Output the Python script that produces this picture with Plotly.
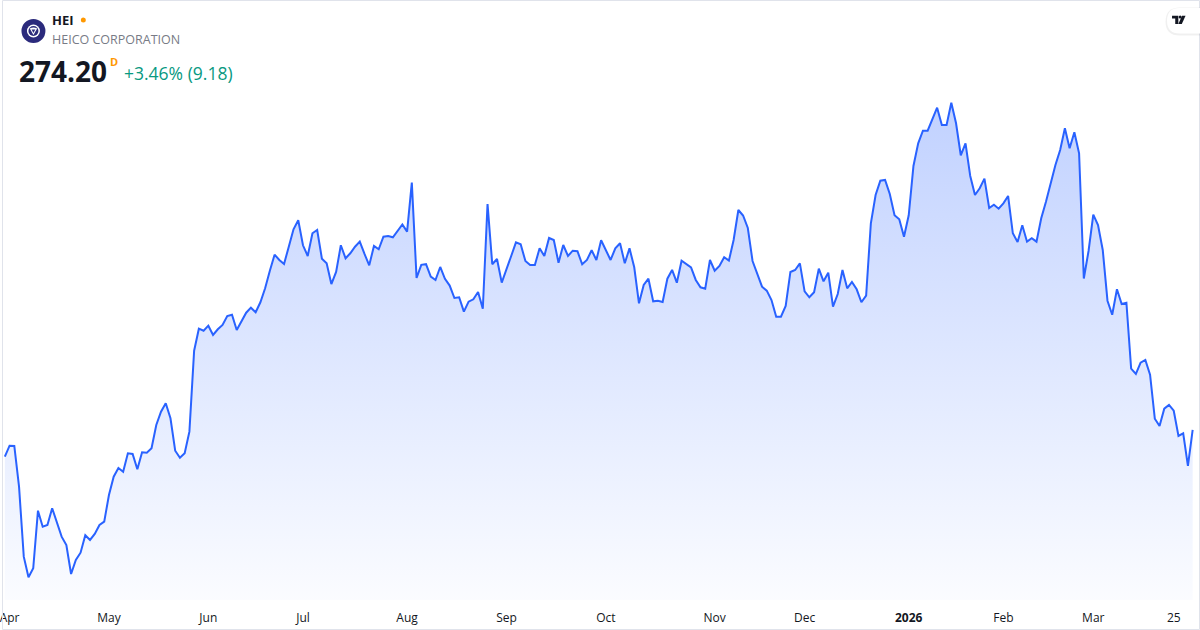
import pandas as pd
import plotly.graph_objects as go

# ---------------- data ----------------
start_date = "2025-03-31"
end_date = "2026-03-31"
market_holidays = ["2025-04-18", "2025-05-26", "2025-06-19", "2025-07-04", "2025-09-01",
                   "2025-11-27", "2025-12-25", "2026-01-01", "2026-01-19", "2026-02-16"]

close_prices = [
    267.39, 270.19, 270.12, 259.74, 241.88, 236.62, 238.92, 253.61, 249.53, 249.97,
    254.23, 250.40, 246.98, 244.86, 237.47, 241.04, 242.90, 247.34, 246.14, 247.67,
    249.97, 250.81, 257.62, 262.29, 264.51, 263.56, 268.26, 268.08, 264.17, 268.51,
    268.41, 269.53, 275.48, 278.87, 281.01, 277.18, 268.92, 267.13, 268.26, 273.77,
    294.43, 300.04, 299.53, 300.81, 298.43, 299.89, 300.99, 303.28, 303.61, 299.71,
    302.08, 304.12, 305.40, 304.23, 306.78, 310.35, 314.84, 318.92, 317.57, 316.55,
    320.96, 325.40, 327.69, 321.32, 318.59, 324.38, 325.22, 317.90, 316.72, 311.44,
    314.51, 321.32, 318.00, 319.28, 320.96, 322.24, 319.10, 316.22, 321.14, 320.30,
    323.51, 323.69, 323.36, 325.04, 326.62, 324.79, 337.29, 312.98, 316.34, 316.50,
    313.31, 312.47, 315.78, 312.77, 311.04, 307.87, 308.05, 304.38, 306.93, 307.54,
    309.40, 305.14, 331.85, 316.47, 317.82, 311.78, 315.45, 318.59, 322.08, 321.57,
    317.31, 316.29, 316.29, 320.55, 318.59, 323.18, 322.67, 316.88, 321.39, 318.59,
    319.94, 319.79, 316.47, 317.57, 320.04, 317.57, 322.59, 319.86, 317.57, 320.55,
    321.83, 316.72, 320.55, 315.70, 306.52, 311.19, 312.80, 307.03, 307.18, 306.85,
    312.80, 315.02, 311.78, 317.39, 316.55, 315.70, 312.47, 310.60, 310.25, 317.57,
    314.84, 316.04, 318.26, 317.39, 322.67, 330.32, 328.92, 325.73, 317.31, 313.74,
    310.76, 309.74, 307.36, 303.10, 303.10, 305.83, 314.51, 315.02, 316.72, 309.58,
    308.05, 309.33, 315.35, 312.13, 314.33, 305.65, 308.89, 315.02, 310.35, 311.95,
    310.09, 306.78, 308.46, 326.93, 334.15, 337.80, 337.98, 334.40, 328.97, 327.95,
    323.51, 328.97, 341.55, 347.34, 350.55, 350.55, 353.28, 356.42, 352.01, 352.01,
    357.69, 352.44, 344.28, 347.34, 339.00, 334.15, 335.86, 338.31, 330.83, 331.67,
    330.65, 332.03, 333.89, 324.38, 322.16, 326.42, 322.24, 323.10, 322.24, 328.20,
    332.44, 337.13, 341.80, 345.63, 351.16, 346.06, 350.14, 344.79, 312.85, 319.86,
    329.12, 326.50, 320.12, 307.18, 303.61, 310.09, 306.34, 306.67, 289.84, 288.49,
    291.37, 292.06, 288.31, 277.08, 275.22, 279.63, 280.58, 279.12, 272.67, 273.36,
    265.02, 274.20,
]

tick_dates = ["2025-04-01", "2025-05-01", "2025-06-02", "2025-07-01", "2025-08-01",
              "2025-09-02", "2025-10-01", "2025-11-03", "2025-12-01", "2026-01-02",
              "2026-02-02", "2026-03-02", "2026-03-25"]
tick_labels = ["Apr", "May", "Jun", "Jul", "Aug", "Sep", "Oct", "Nov", "Dec",
               "<b>2026</b>", "Feb", "Mar", "25"]

symbol = "HEI"
company = "HEICO CORPORATION"
last_price = "274.20"
change_text = "+3.46% (9.18)"

# ---------------- build ----------------
days = pd.bdate_range(start_date, end_date)
days = days[~days.isin(pd.to_datetime(market_holidays))]
dates = [d.strftime("%Y-%m-%d") for d in days]
assert len(dates) == len(close_prices)

W, H = 1200, 630
PLOT_BOTTOM = 600  # pixel
Y_MIN, Y_MAX = 230.83, 383.89

LINE = "#2962FF"
FONT = "Open Sans, Noto Sans, sans-serif"

fig = go.Figure()
fig.add_trace(go.Scatter(
    x=dates, y=close_prices, mode="lines",
    line=dict(color=LINE, width=2),
    fill="tozeroy",
    fillgradient=dict(
        type="vertical",
        colorscale=[[0, "rgba(41,98,255,0.02)"], [1, "rgba(41,98,255,0.29)"]],
        start=Y_MIN, stop=max(close_prices),
    ),
    hoverinfo="skip",
))


def px(x):
    return x / W


def py(y):
    return (PLOT_BOTTOM - y) / PLOT_BOTTOM


annotations = [
    dict(text=f"<b>{symbol}</b>", x=px(48), y=py(20), xanchor="left", yanchor="middle",
         font=dict(size=13, color="#131722", family=FONT)),
    dict(text=company, x=px(48), y=py(40), xanchor="left", yanchor="middle",
         font=dict(size=12.5, color="#787b86", family=FONT)),
    dict(text=f"<b>{last_price}</b>", x=px(15), y=py(71), xanchor="left", yanchor="middle",
         font=dict(size=28, color="#131722", family=FONT)),
    dict(text="<b>D</b>", x=px(106), y=py(61), xanchor="left", yanchor="middle",
         font=dict(size=11, color="#ff9800", family=FONT)),
    dict(text=change_text, x=px(120), y=py(73), xanchor="left", yanchor="middle",
         font=dict(size=17.5, color="#089981", family=FONT)),
]
for a in annotations:
    a.update(xref="paper", yref="paper", showarrow=False)

shapes = []
# widget border
shapes.append(dict(type="rect", xref="paper", yref="paper",
                   x0=px(0.5), x1=px(1199.5), y0=py(629.5), y1=py(0.5),
                   line=dict(color="#e0e3eb", width=1), fillcolor="rgba(0,0,0,0)", layer="above"))
# orange status dot
shapes.append(dict(type="circle", xref="paper", yref="paper",
                   x0=px(79), x1=px(84), y0=py(22.5), y1=py(17.5),
                   line=dict(width=0), fillcolor="#ff9800"))
# company logo
shapes.append(dict(type="circle", xref="paper", yref="paper",
                   x0=px(19.5), x1=px(43.5), y0=py(43), y1=py(19),
                   line=dict(width=0), fillcolor="#2b2a7c"))
shapes.append(dict(type="circle", xref="paper", yref="paper",
                   x0=px(25), x1=px(38), y0=py(37.5), y1=py(24.5),
                   line=dict(width=0), fillcolor="#ffffff"))
shapes.append(dict(type="circle", xref="paper", yref="paper",
                   x0=px(26.5), x1=px(36.5), y0=py(36), y1=py(26),
                   line=dict(width=0), fillcolor="#2b2a7c"))
shapes.append(dict(type="path", xref="paper", yref="paper",
                   path=f"M {px(27.8)},{py(28.5)} Q {px(31.5)},{py(26.5)} {px(35.2)},{py(28.5)} "
                        f"L {px(31.5)},{py(35)} Z",
                   line=dict(width=0), fillcolor="#ffffff"))
shapes.append(dict(type="path", xref="paper", yref="paper",
                   path=f"M {px(29.6)},{py(29.6)} L {px(31.5)},{py(33)} L {px(33.4)},{py(29.6)} Z",
                   line=dict(width=0), fillcolor="#2b2a7c"))


def pill(x0, y0, x1, y1, r):
    return (f"M {px(x0 + r)},{py(y0)} L {px(x1)},{py(y0)} L {px(x1)},{py(y1)} "
            f"L {px(x0 + r)},{py(y1)} "
            f"Q {px(x0)},{py(y1)} {px(x0)},{py((y0 + y1) / 2)} "
            f"Q {px(x0)},{py(y0)} {px(x0 + r)},{py(y0)} Z")


# TradingView badge (shadow + pill + glyph)
shapes.append(dict(type="path", xref="paper", yref="paper", path=pill(1165.5, 7.5, 1202, 35.5, 14),
                   line=dict(width=0), fillcolor="rgba(0,0,0,0.06)"))
shapes.append(dict(type="path", xref="paper", yref="paper", path=pill(1167, 8, 1202, 33.5, 12.5),
                   line=dict(width=0), fillcolor="#ffffff"))
shapes.append(dict(type="path", xref="paper", yref="paper",
                   path=f"M {px(1172)},{py(15.7)} L {px(1178.3)},{py(15.7)} L {px(1178.3)},{py(24)} "
                        f"L {px(1175.2)},{py(24)} L {px(1175.2)},{py(18.6)} L {px(1172)},{py(18.6)} Z",
                   line=dict(width=0), fillcolor="#131722"))
shapes.append(dict(type="circle", xref="paper", yref="paper",
                   x0=px(1178.6), x1=px(1181.6), y0=py(18.6), y1=py(15.6),
                   line=dict(width=0), fillcolor="#131722"))
shapes.append(dict(type="path", xref="paper", yref="paper",
                   path=f"M {px(1182)},{py(15.7)} L {px(1185.5)},{py(15.7)} L {px(1181.8)},{py(24)} "
                        f"L {px(1178.3)},{py(24)} Z",
                   line=dict(width=0), fillcolor="#131722"))

fig.update_layout(
    width=W, height=H,
    margin=dict(l=0, r=0, t=0, b=H - PLOT_BOTTOM),
    paper_bgcolor="#ffffff", plot_bgcolor="#ffffff",
    showlegend=False,
    font=dict(family=FONT, color="#131722"),
    xaxis=dict(
        type="category", range=[-0.6, 252.55],
        tickmode="array", tickvals=tick_dates, ticktext=tick_labels,
        showgrid=False, zeroline=False, showline=False,
        ticks="outside", ticklen=7, tickcolor="rgba(0,0,0,0)",
        tickfont=dict(size=12, color="#131722", family=FONT),
        tickangle=0, ticklabeloverflow="allow", fixedrange=True,
    ),
    yaxis=dict(range=[Y_MIN, Y_MAX], visible=False, showgrid=False, zeroline=False, fixedrange=True),
    annotations=annotations,
    shapes=shapes,
)

fig.write_html(
    "out.html",
    config={"displayModeBar": False, "staticPlot": True},
    post_script="document.body.style.margin='0';document.body.style.padding='0';"
                "document.documentElement.style.overflow='hidden';",
)
